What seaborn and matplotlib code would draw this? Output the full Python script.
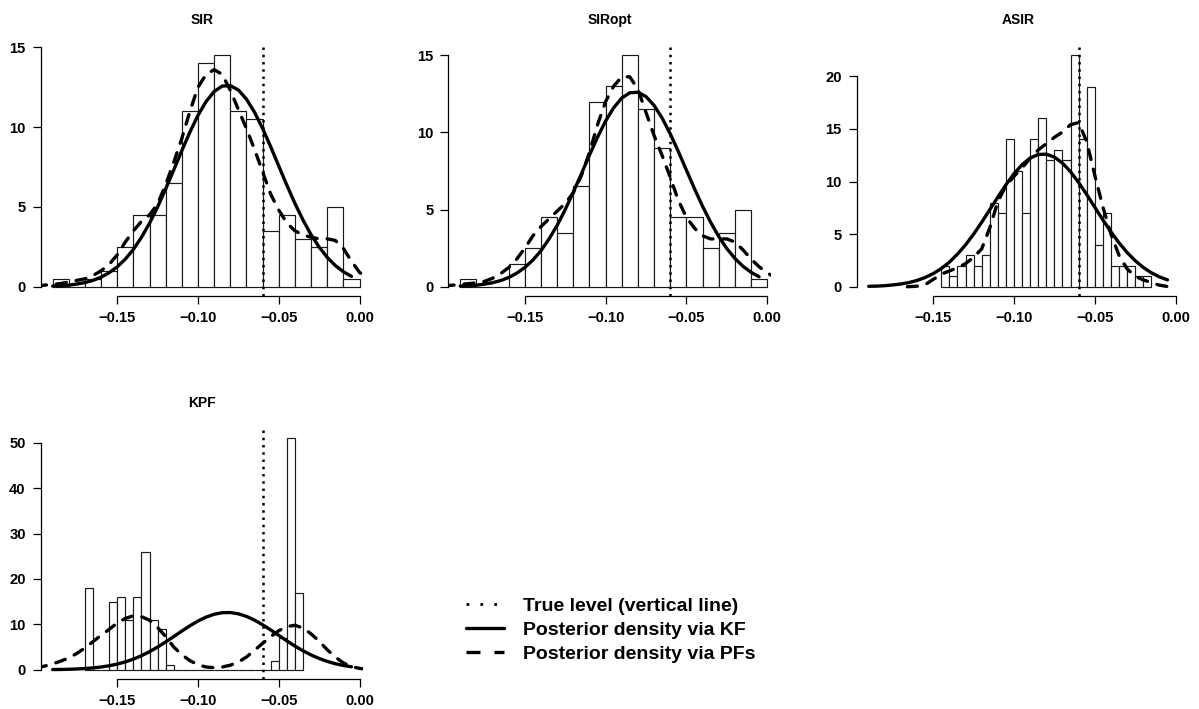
import numpy as np
import pandas as pd
import matplotlib
matplotlib.use("Agg")
import matplotlib.pyplot as plt
from matplotlib.lines import Line2D
import seaborn as sns

# ---------------- data ----------------
titles = ["SIR", "SIRopt", "ASIR", "KPF"]
true_level = -0.06

# histogram bins: first break, bin width, density heights
sir_start, sir_width = -0.19, 0.01
sir_heights = [0.5, 0, 0.5, 1, 2.5, 4.5, 4.5, 6.5, 11, 14, 14.5, 11, 10.5,
               3.5, 4.5, 3, 2.5, 5, 0.5]
siropt_start, siropt_width = -0.19, 0.01
siropt_heights = [0.5, 0, 0, 1.5, 2.5, 4.5, 3.5, 6.5, 12, 13, 15, 11.5, 9,
                  4.5, 4.5, 2.5, 3.5, 5, 0.5]
asir_start, asir_width = -0.145, 0.005
asir_heights = [2, 1, 2, 3, 2, 3, 8, 7, 14, 11, 7, 14, 16, 12, 13, 12, 22,
                14, 19, 4, 7, 2, 2, 2, 1, 1]
kpf_start, kpf_width = -0.17, 0.005
kpf_heights = [18, 0, 0, 15, 16, 11, 16, 26, 11, 9, 1,
               0, 0, 0, 0, 0, 0, 0, 0, 0, 0, 0, 0,
               2, 7, 51, 17]

# posterior density via KF
kf_x = [-0.190, -0.185, -0.180, -0.175, -0.170, -0.165, -0.160, -0.155,
        -0.150, -0.145, -0.140, -0.135, -0.130, -0.125, -0.120, -0.115,
        -0.110, -0.105, -0.100, -0.095, -0.090, -0.085, -0.080, -0.075,
        -0.070, -0.065, -0.060, -0.055, -0.050, -0.045, -0.040, -0.035,
        -0.030, -0.025, -0.020, -0.015, -0.010, -0.005]
kf_y = [0.04, 0.06, 0.10, 0.17, 0.26, 0.40, 0.60, 0.88, 1.25, 1.73, 2.34,
        3.10, 3.98, 5.00, 6.13, 7.32, 8.53, 9.69, 10.74, 11.60, 12.23, 12.57,
        12.60, 12.32, 11.75, 10.93, 9.91, 8.77, 7.56, 6.36, 5.22, 4.18, 3.26,
        2.48, 1.84, 1.33, 0.94, 0.65]

# posterior density via PFs
pf_x = [-0.200, -0.195, -0.190, -0.185, -0.180, -0.175, -0.170, -0.165,
        -0.160, -0.155, -0.150, -0.145, -0.140, -0.135, -0.130, -0.125,
        -0.120, -0.115, -0.110, -0.105, -0.100, -0.095, -0.090, -0.085,
        -0.080, -0.075, -0.070, -0.065, -0.060, -0.055, -0.050, -0.045,
        -0.040, -0.035, -0.030, -0.025, -0.020, -0.015, -0.010, -0.005,
        0.000, 0.005]
sir_pf = [0.05, 0.1, 0.15, 0.2, 0.3, 0.4, 0.5, 0.7, 1.0, 1.4, 2.0, 2.8,
          3.5, 4.1, 4.5, 5.2, 6.4, 7.8, 9.3, 11.0, 12.5, 13.3, 13.6, 13.3,
          12.3, 11.1, 9.9, 8.6, 7.2, 5.8, 4.8, 4.0, 3.5, 3.25, 3.1, 3.0,
          3.0, 2.9, 2.4, 1.6, 0.9, 0.5]
siropt_pf = [0.05, 0.1, 0.15, 0.2, 0.25, 0.35, 0.55, 0.85, 1.25, 1.8, 2.5,
             3.3, 3.9, 4.4, 4.9, 5.4, 6.1, 7.2, 8.7, 10.5, 12.0, 13.0, 13.6,
             13.6, 12.8, 11.3, 9.8, 8.5, 7.1, 5.6, 4.5, 3.8, 3.3, 3.1, 3.1,
             3.1, 2.9, 2.4, 1.8, 1.3, 0.9, 0.6]
asir_pf_x = [-0.166, -0.160, -0.155, -0.150, -0.145, -0.140, -0.135, -0.130,
             -0.125, -0.120, -0.115, -0.110, -0.105, -0.100, -0.095, -0.090,
             -0.085, -0.080, -0.075, -0.070, -0.065, -0.060, -0.055, -0.050,
             -0.045, -0.040, -0.035, -0.030, -0.025, -0.020, -0.015, -0.010,
             -0.004]
asir_pf = [0.0, 0.05, 0.2, 0.7, 1.2, 1.5, 1.8, 2.2, 2.8, 3.6, 5.6, 8.1, 9.6,
           10.5, 11.3, 12.2, 13.0, 13.6, 14.2, 14.7, 15.4, 15.6, 13.8, 10.6,
           7.6, 5.0, 3.0, 1.7, 1.0, 0.65, 0.4, 0.15, 0.0]
kpf_pf = [0.4, 0.8, 1.3, 1.9, 2.6, 3.6, 4.8, 6.2, 7.6, 8.9, 10.3, 11.3, 11.9,
          11.7, 10.9, 9.3, 7.3, 5.0, 3.3, 2.0, 1.1, 0.6, 0.45, 0.6, 1.0, 1.7,
          2.8, 4.3, 5.8, 7.3, 8.6, 9.5, 9.8, 9.2, 7.9, 6.3, 4.4, 2.8, 1.5,
          0.7, 0.3, 0.1]

xticks = [-0.15, -0.10, -0.05, 0.00]
xtick_labels = ["\u22120.15", "\u22120.10", "\u22120.05", "0.00"]
yticks = {"SIR": [0, 5, 10, 15], "SIRopt": [0, 5, 10, 15],
          "ASIR": [0, 5, 10, 15, 20], "KPF": [0, 10, 20, 30, 40, 50]}
legend_labels = ["True level (vertical line)", "Posterior density via KF",
                 "Posterior density via PFs"]

panels = {
    "SIR": (sir_start, sir_width, sir_heights, pf_x, sir_pf),
    "SIRopt": (siropt_start, siropt_width, siropt_heights, pf_x, siropt_pf),
    "ASIR": (asir_start, asir_width, asir_heights, asir_pf_x, asir_pf),
    "KPF": (kpf_start, kpf_width, kpf_heights, pf_x, kpf_pf),
}

# ---------------- style ----------------
sns.set_style("ticks")
plt.rcParams["font.family"] = ["Liberation Sans", "DejaVu Sans"]
plt.rcParams["font.weight"] = "bold"
plt.rcParams["axes.unicode_minus"] = True
for key in ("text.color", "axes.labelcolor", "xtick.color", "ytick.color",
            "axes.edgecolor"):
    plt.rcParams[key] = "black"

W, H = 1199, 709
fig = plt.figure(figsize=(W / 100, H / 100), dpi=100)

col_left = [40.7, 448.3, 856.7]
ax_w = 322.7
ax_h = 250
row_top = [46, 429]
positions = {"SIR": (0, 0), "SIRopt": (0, 1), "ASIR": (0, 2), "KPF": (1, 0)}

lw = 2.4
xlo = kf_x[0] - 0.04 * (kf_x[-1] - kf_x[0])
xhi = kf_x[-1] + 0.04 * (kf_x[-1] - kf_x[0])

for name in titles:
    r, c = positions[name]
    left = col_left[c] / W
    bottom = (H - row_top[r] - ax_h) / H
    ax = fig.add_axes([left, bottom, ax_w / W, ax_h / H])
    start, width, heights, px, py = panels[name]
    n = len(heights)
    edges = [round(start + width * i, 4) for i in range(n + 1)]
    centers = [(edges[i] + edges[i + 1]) / 2 for i in range(n)]
    df = pd.DataFrame({"x": centers, "w": [float(h) for h in heights]})
    sns.histplot(data=df, x="x", weights="w", bins=edges, stat="count",
                 color="white", edgecolor="#1a1a1a", linewidth=0.85,
                 alpha=1, ax=ax)
    sns.lineplot(x=kf_x, y=kf_y, color="black", linewidth=lw, sort=False,
                 estimator=None, ax=ax, solid_capstyle="round")
    sns.lineplot(x=px, y=py, color="black", linewidth=lw, sort=False,
                 estimator=None, ax=ax, linestyle=(0, (3.0, 3.0)),
                 dash_capstyle="round")
    ax.axvline(true_level, color="black", linewidth=1.8,
               linestyle=(0, (1, 1.9)))
    M = max(heights)
    ax.set_xlim(xlo, xhi)
    ax.set_ylim(-0.04 * M, 1.04 * M)
    ax.set_xticks(xticks)
    ax.set_xticklabels(xtick_labels)
    yt = yticks[name]
    ax.set_yticks(yt)
    ax.set_yticklabels([str(v) for v in yt])
    ax.spines["top"].set_visible(False)
    ax.spines["right"].set_visible(False)
    ax.spines["bottom"].set_bounds(xticks[0], xticks[-1])
    ax.spines["left"].set_bounds(yt[0], yt[-1])
    for s in ("bottom", "left"):
        ax.spines[s].set_linewidth(0.9)
        ax.spines[s].set_color("black")
    ax.tick_params(axis="both", length=5.8, width=0.9, color="black",
                   labelcolor="black", labelsize=10.6, pad=5.0)
    for lab in ax.get_xticklabels() + ax.get_yticklabels():
        lab.set_fontweight("bold")
    ax.set_xlabel("")
    ax.set_ylabel("")
    ax.set_title(name, fontsize=10, fontweight="bold", pad=16, color="black")

handles = [
    Line2D([], [], color="black", linewidth=2.0, linestyle=(0, (1, 4))),
    Line2D([], [], color="black", linewidth=lw),
    Line2D([], [], color="black", linewidth=lw, linestyle=(0, (4.2, 4.2))),
]
leg = fig.legend(handles, legend_labels, loc="upper left",
                 bbox_to_anchor=(466 / W, 1 - 597 / H), frameon=False,
                 prop={"size": 14, "weight": "bold"}, handlelength=1.96,
                 handletextpad=0.98, labelspacing=0.33, borderpad=0,
                 borderaxespad=0)
for t in leg.get_texts():
    t.set_color("black")

fig.savefig("out.png", dpi=100)
